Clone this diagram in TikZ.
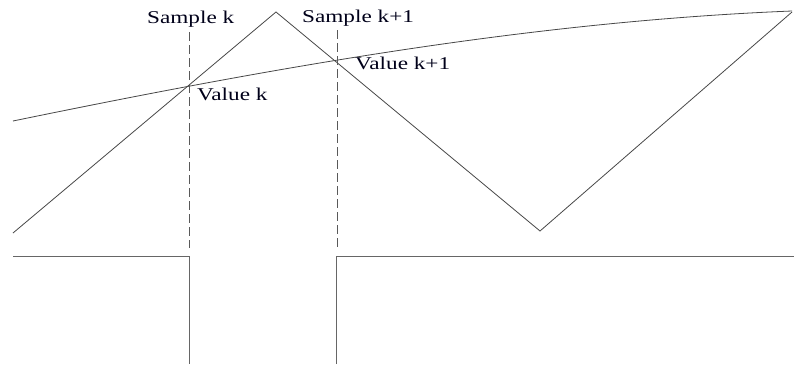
\documentclass[tikz,border=0pt]{standalone}
\usepackage{fontspec}
\setmainfont{Liberation Serif}
\tikzset{
  wave/.style={draw=black!72, line width=0.8pt, line join=miter},
  sig/.style={draw=black!60, line width=1pt},
  marker/.style={draw=black!65, line width=1pt, dash pattern=on 9pt off 4pt},
  lbl/.style={inner sep=0pt, anchor=base west, text=black!90!blue, font=\fontsize{18}{18}\selectfont},
}
\newcommand{\wide}[1]{\scalebox{1.29}[1]{#1}}
\begin{document}
\begin{tikzpicture}[x=1pt,y=-1pt]
\useasboundingbox (0,0) rectangle (794,364);
% triangle wave
\coordinate (t0) at (13,233);
\coordinate (t1) at (276,12);
\coordinate (t2) at (540,231);
\coordinate (t3) at (792,12);
\draw[wave] (t0) -- (t1) -- (t2) -- (t3);
% slow curve
\coordinate (c0) at (13,121);
\coordinate (c1) at (273,67.5);
\coordinate (c2) at (532,21.5);
\coordinate (c3) at (792,11);
\draw[wave] (c0) .. controls (c1) and (c2) .. (c3);
% sample markers
\coordinate (s1a) at (189,32);
\coordinate (s1b) at (189,248);
\coordinate (s2a) at (337,30);
\coordinate (s2b) at (337,247);
\draw[marker] (s1a) -- (s1b);
\draw[marker] (s2a) -- (s2b);
% square signal
\coordinate (q0) at (13,256);
\coordinate (q1) at (189,256);
\coordinate (q2) at (189,364);
\coordinate (q3) at (336,364);
\coordinate (q4) at (336,256);
\coordinate (q5) at (794,256);
\draw[sig] (q0) -- (q1) -- (q2);
\draw[sig] (q3) -- (q4) -- (q5);
% labels
\node[lbl] (smpk) at (147,23) {\wide{Sample k}};
\node[lbl] (smpk1) at (302,22) {\wide{Sample k+1}};
\node[lbl] (valk) at (197,100) {\wide{Value k}};
\node[lbl] (valk1) at (355,69) {\wide{Value k+1}};
\end{tikzpicture}
\end{document}
